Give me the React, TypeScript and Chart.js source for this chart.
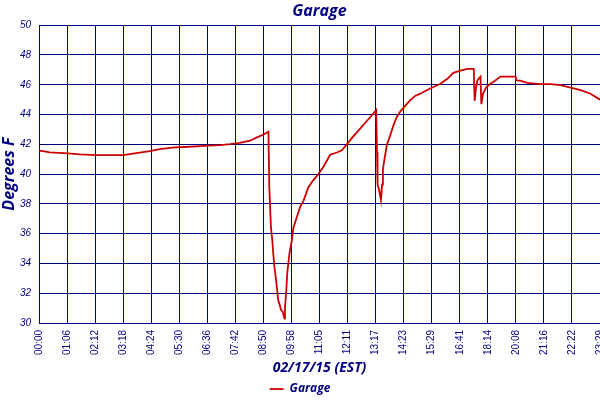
import React, { useEffect, useRef } from "react";
import { Chart, registerables } from "chart.js";

Chart.register(...registerables);

const tickLabels = [
  "00:00", "01:06", "02:12", "03:18", "04:24", "05:30", "06:36", "07:42",
  "08:50", "09:58", "11:05", "12:11", "13:17", "14:23", "15:29", "16:41",
  "18:14", "20:08", "21:16", "22:22", "23:29",
];

// sample position (in tick intervals) and temperature
const samplePos = [
  0, 0.2, 0.38, 0.74, 1.02, 1.45, 2.06, 2.52, 2.99, 3.41, 3.95, 4.31, 4.84,
  5.2, 5.74, 6.45, 6.81, 7.16, 7.52, 7.81, 8.02, 8.18, 8.21, 8.27, 8.32,
  8.35, 8.39, 8.44, 8.48, 8.53, 8.57, 8.63, 8.69, 8.75, 8.77, 8.81, 8.85,
  8.93, 9.01, 9.07, 9.19, 9.31, 9.43, 9.6, 9.78, 9.96, 10.14, 10.38, 10.62,
  10.8, 11.0, 11.21, 11.45, 11.75, 11.93, 12.02, 12.05, 12.07, 12.13, 12.19,
  12.23, 12.26, 12.32, 12.4, 12.52, 12.64, 12.76, 12.88, 13.06, 13.24,
  13.41, 13.59, 13.84, 14.06, 14.31, 14.56, 14.77, 15.02, 15.27, 15.5,
  15.53, 15.58, 15.63, 15.74, 15.77, 15.83, 15.95, 16.09, 16.21, 16.45,
  16.99, 17.02, 17.16, 17.4, 17.88, 18.24, 18.59, 18.95, 19.31, 19.66, 20.0,
];

const garageTemps = [
  41.58, 41.52, 41.46, 41.42, 41.39, 41.33, 41.28, 41.27, 41.28, 41.39,
  41.54, 41.68, 41.79, 41.82, 41.88, 41.95, 42.01, 42.1, 42.24, 42.5, 42.68,
  42.84, 39.15, 36.4, 35.5, 34.7, 33.8, 33.1, 32.4, 31.5, 31.3, 30.87, 30.76,
  30.3, 31.1, 32.0, 33.35, 34.7, 35.5, 36.4, 37.1, 37.8, 38.2, 39.1, 39.6,
  40.0, 40.5, 41.3, 41.45, 41.6, 42.06, 42.55, 43.05, 43.7, 44.1, 44.3,
  41.5, 39.3, 38.9, 38.25, 39.3, 40.3, 41.05, 41.95, 42.6, 43.3, 43.85,
  44.2, 44.6, 44.97, 45.25, 45.4, 45.65, 45.85, 46.07, 46.4, 46.8, 46.95,
  47.07, 47.07, 44.92, 45.8, 46.3, 46.55, 44.7, 45.4, 45.85, 46.07, 46.2,
  46.55, 46.55, 46.3, 46.27, 46.13, 46.04, 46.04, 45.97, 45.8, 45.64, 45.4,
  45.0,
];

const NAVY = "#000080";
const RED = "#cc0000";

export default function App() {
  const ref = useRef<HTMLCanvasElement | null>(null);

  useEffect(() => {
    document.body.style.margin = "0";
    if (!ref.current) return;
    const points = samplePos.map((x, i) => ({ x, y: garageTemps[i] }));
    const chart = new Chart(ref.current, {
      type: "line",
      data: {
        datasets: [
          {
            label: "Garage",
            data: points,
            borderColor: RED,
            backgroundColor: RED,
            borderWidth: 1.8,
            pointRadius: 0,
            tension: 0,
          },
        ],
      },
      options: {
        responsive: false,
        animation: false,
        layout: { padding: { top: 0, right: 0, bottom: 0, left: 0 } },
        plugins: {
          title: {
            display: true,
            text: "Garage",
            color: NAVY,
            fullSize: false,
            font: { family: "'Open Sans'", size: 16, style: "italic", weight: "bold" },
            padding: { top: 2, bottom: 4 },
          },
          legend: {
            position: "bottom",
            maxHeight: 17,
            labels: {
              color: NAVY,
              usePointStyle: true,
              pointStyle: "line",
              pointStyleWidth: 14,
              padding: 0,
              font: { family: "'Open Sans'", size: 12, style: "italic", weight: "bold" },
            },
          },
          tooltip: { enabled: false },
        },
        scales: {
          x: {
            type: "linear",
            min: 0,
            max: 20,
            afterFit: (scale: any) => {
              scale.height = 60;
              scale.paddingLeft = 0;
              scale.paddingRight = 0;
            },
            ticks: {
              stepSize: 1,
              autoSkip: false,
              maxRotation: 90,
              minRotation: 90,
              padding: 7,
              color: NAVY,
              font: { family: "'Liberation Sans'", size: 10 },
              callback: (v: any) => tickLabels[Math.round(Number(v))] ?? "",
            },
            grid: { color: NAVY, lineWidth: 1, drawTicks: false },
            border: { color: NAVY, width: 1 },
            title: {
              display: true,
              text: "02/17/15 (EST)",
              color: NAVY,
              padding: { top: 0, bottom: 7 },
              font: { family: "'Open Sans'", size: 14, style: "italic", weight: "bold" },
            },
          },
          y: {
            min: 30,
            max: 50,
            afterFit: (scale: any) => {
              scale.width = 39;
            },
            ticks: {
              stepSize: 2,
              padding: 8,
              color: NAVY,
              font: { family: "'Liberation Sans'", size: 10, style: "italic" },
            },
            grid: { color: NAVY, lineWidth: 1, drawTicks: false },
            border: { color: NAVY, width: 1 },
            title: {
              display: true,
              text: "Degrees F",
              color: NAVY,
              padding: { top: 0, bottom: 0 },
              font: { family: "'Open Sans'", size: 16, style: "italic", weight: "bold" },
            },
          },
        },
      },
    });
    return () => chart.destroy();
  }, []);

  return (
    <div style={{ width: 600, height: 400 }}>
      <canvas ref={ref} width={600} height={400} />
    </div>
  );
}
